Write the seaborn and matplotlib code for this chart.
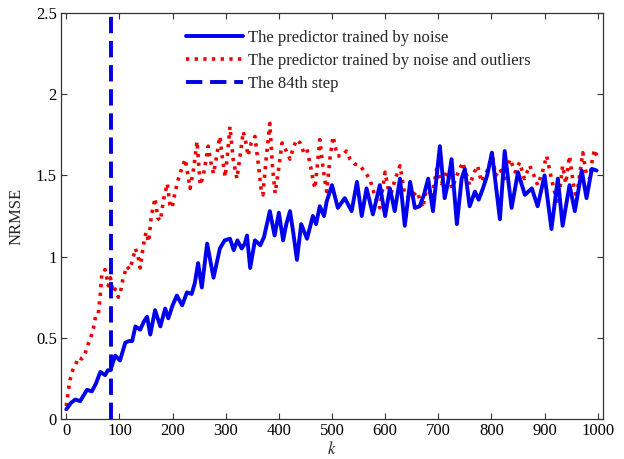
import matplotlib
matplotlib.use("Agg")
import matplotlib.pyplot as plt
import seaborn as sns
import pandas as pd

# ---- data ----
k_noise = [0, 9, 17, 26, 39, 48, 56, 64, 73, 78, 83, 92, 101, 111, 118, 124, 130, 139, 146, 152,
           158, 167, 177, 186, 192, 200, 208, 218, 227, 236, 242, 248, 255, 265, 277, 289, 298, 308,
           315, 322, 330, 336, 340, 346, 355, 365, 372, 383, 392, 400, 408, 414, 421, 427, 434, 442,
           453, 464, 470, 477, 485, 490, 500, 511, 524, 537, 547, 556, 565, 577, 590, 600, 609, 618,
           628, 637, 647, 656, 665, 673, 681, 690, 703, 712, 718, 725, 735, 744, 750, 759, 769, 776,
           784, 792, 801, 816, 825, 838, 850, 863, 876, 887, 900, 913, 925, 934, 947, 957, 970, 979,
           989, 998]
v_noise = [0.06, 0.10, 0.12, 0.11, 0.18, 0.17, 0.22, 0.29, 0.27, 0.30, 0.30, 0.39, 0.36, 0.47, 0.48,
           0.48, 0.57, 0.55, 0.60, 0.63, 0.52, 0.67, 0.57, 0.68, 0.62, 0.70, 0.76, 0.70, 0.78, 0.77,
           0.84, 0.96, 0.81, 1.08, 0.87, 1.05, 1.10, 1.11, 1.04, 1.10, 1.05, 1.08, 1.13, 0.93, 1.10,
           1.07, 1.12, 1.28, 1.13, 1.27, 1.10, 1.20, 1.28, 1.15, 0.98, 1.20, 1.11, 1.25, 1.20, 1.31,
           1.25, 1.34, 1.44, 1.30, 1.36, 1.28, 1.46, 1.25, 1.42, 1.26, 1.44, 1.25, 1.42, 1.28, 1.48,
           1.19, 1.46, 1.30, 1.31, 1.38, 1.48, 1.28, 1.68, 1.36, 1.45, 1.60, 1.20, 1.48, 1.54, 1.31,
           1.40, 1.35, 1.42, 1.50, 1.64, 1.23, 1.65, 1.30, 1.52, 1.38, 1.42, 1.31, 1.50, 1.17, 1.48,
           1.19, 1.44, 1.28, 1.53, 1.36, 1.54, 1.53]

k_outl = [0, 4, 7, 12, 17, 23, 29, 35, 41, 46, 51, 55, 60, 64, 67, 73, 79, 83, 88, 92, 98, 103, 107,
          114, 119, 124, 130, 135, 139, 145, 150, 155, 160, 167, 172, 177, 183, 190, 195, 199, 205,
          211, 218, 224, 229, 233, 240, 246, 252, 258, 263, 267, 272, 277, 283, 289, 294, 299, 304,
          308, 314, 321, 327, 333, 338, 342, 348, 355, 362, 367, 370, 376, 383, 388, 393, 400, 406,
          414, 421, 428, 434, 440, 447, 453, 460, 465, 468, 473, 477, 483, 490, 496, 502, 510, 519,
          527, 534, 543, 553, 562, 571, 580, 590, 600, 609, 618, 628, 637, 647, 660, 671, 679, 688,
          697, 706, 716, 726, 735, 746, 759, 768, 774, 781, 788, 795, 801, 808, 816, 825, 835, 845,
          853, 862, 872, 880, 887, 896, 904, 913, 923, 929, 934, 940, 947, 954, 960, 966, 972, 979,
          985, 990, 994, 1000]
v_outl = [0.08, 0.18, 0.24, 0.30, 0.33, 0.38, 0.37, 0.40, 0.46, 0.50, 0.56, 0.63, 0.64, 0.77, 0.90,
          0.92, 0.82, 0.87, 0.78, 0.80, 0.75, 0.80, 0.87, 0.94, 0.92, 0.97, 1.05, 1.00, 0.93, 1.07,
          1.15, 1.09, 1.25, 1.36, 1.24, 1.22, 1.35, 1.45, 1.32, 1.30, 1.40, 1.48, 1.55, 1.60, 1.50,
          1.42, 1.55, 1.71, 1.44, 1.50, 1.60, 1.68, 1.58, 1.51, 1.62, 1.74, 1.60, 1.49, 1.65, 1.80,
          1.60, 1.48, 1.62, 1.77, 1.70, 1.62, 1.70, 1.74, 1.55, 1.40, 1.38, 1.60, 1.82, 1.55, 1.39,
          1.55, 1.70, 1.65, 1.60, 1.68, 1.72, 1.70, 1.64, 1.66, 1.55, 1.46, 1.42, 1.58, 1.72, 1.55,
          1.40, 1.60, 1.74, 1.62, 1.62, 1.65, 1.60, 1.57, 1.56, 1.52, 1.48, 1.38, 1.30, 1.52, 1.36,
          1.47, 1.56, 1.38, 1.36, 1.40, 1.30, 1.44, 1.36, 1.54, 1.45, 1.52, 1.42, 1.50, 1.58, 1.44,
          1.52, 1.56, 1.46, 1.50, 1.55, 1.64, 1.50, 1.54, 1.48, 1.60, 1.52, 1.58, 1.48, 1.56, 1.50,
          1.44, 1.52, 1.62, 1.48, 1.34, 1.42, 1.56, 1.45, 1.62, 1.45, 1.36, 1.50, 1.64, 1.50, 1.48,
          1.60, 1.66, 1.60]

step_k = 84
labels = ["The predictor trained by noise",
          "The predictor trained by noise and outliers",
          "The 84th step"]
x_ticks = [0, 100, 200, 300, 400, 500, 600, 700, 800, 900, 1000]
y_ticks = [0, 0.5, 1, 1.5, 2, 2.5]
y_tick_labels = ["0", "0.5", "1", "1.5", "2", "2.5"]

# ---- plotting ----
sns.set_style("ticks")
plt.rcParams['font.family'] = ['Liberation Serif', 'DejaVu Serif']
plt.rcParams['mathtext.fontset'] = 'stix'

fig = plt.figure(figsize=(6.24, 4.59), dpi=100)
ax = fig.add_axes([61 / 624, 40 / 459, 542 / 624, 406 / 459])

df_noise = pd.DataFrame({"k": k_noise, "v": v_noise})
df_outl = pd.DataFrame({"k": k_outl, "v": v_outl})

sns.lineplot(data=df_noise, x="k", y="v", ax=ax, color="#0000ee", lw=2.8,
             label=labels[0], zorder=3)
sns.lineplot(data=df_outl, x="k", y="v", ax=ax, color="#ee0000", lw=2.6,
             linestyle=(0, (0.9, 1.5)), label=labels[1], zorder=2)
ax.axvline(step_k, color="#0000dd", lw=2.8, linestyle=(0, (4.2, 2.0)),
           label=labels[2], zorder=4)

ax.set_xlim(-10, 1010)
ax.set_ylim(0, 2.5)
ax.set_xticks(x_ticks)
ax.set_yticks(y_ticks)
ax.set_yticklabels(y_tick_labels)
ax.tick_params(direction="in", length=4, width=0.8, labelsize=12, pad=3,
               top=True, right=True, colors="#333333", labelcolor="black")
for s in ax.spines.values():
    s.set_linewidth(0.9)
    s.set_color("#333333")

ax.set_xlabel("$k$", fontsize=12, labelpad=1)
ax.set_ylabel("NRMSE", fontsize=12, labelpad=8)

leg = ax.legend(loc="upper left", bbox_to_anchor=(186 / 624, 1 - 30 / 459),
                bbox_transform=fig.transFigure, frameon=False, fontsize=12,
                handlelength=3.4, handletextpad=0.35, labelspacing=0.42,
                borderpad=0, borderaxespad=0)

fig.savefig("out.png", dpi=100)
